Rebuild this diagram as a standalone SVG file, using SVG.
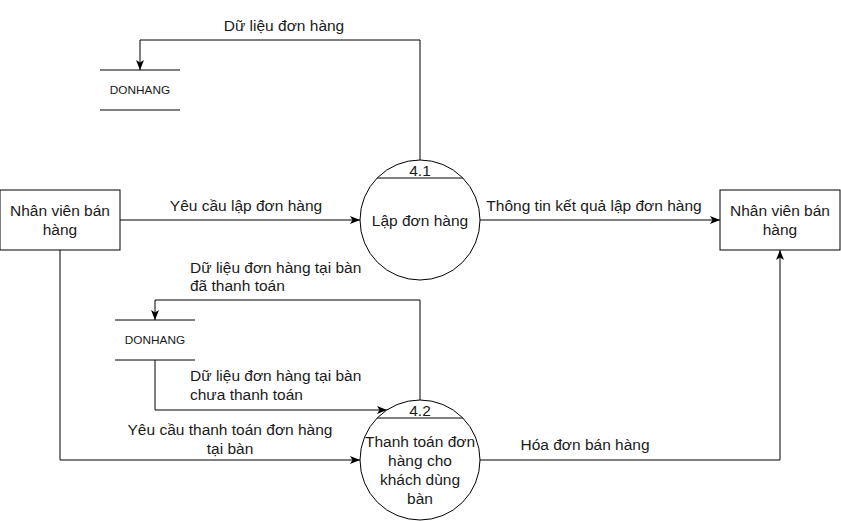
<svg xmlns="http://www.w3.org/2000/svg" width="841" height="521" viewBox="0 0 841 521">
<defs>
<marker id="arr" viewBox="0 0 10 10" refX="10" refY="5" markerWidth="10" markerHeight="10" markerUnits="userSpaceOnUse" orient="auto">
<path d="M0,1 L10,5 L0,9 L2.5,5 Z" fill="#000"/>
</marker>
<style>
.t{font-family:"Liberation Sans",Arial,sans-serif;font-size:15.5px;fill:#1a1a1a}
.s{font-family:"Liberation Sans",Arial,sans-serif;font-size:11.8px;fill:#1a1a1a}
.ln{fill:none;stroke:#000;stroke-width:1}
.sh{fill:#fff;stroke:#000;stroke-width:1}
</style>
</defs>
<rect width="841" height="521" fill="#fff"/>
<g id="connectors">
<path class="ln" d="M420,160 V40 H140 V70" marker-end="url(#arr)"/>
<path class="ln" d="M120,220 H360" marker-end="url(#arr)"/>
<path class="ln" d="M480,220 H720" marker-end="url(#arr)"/>
<path class="ln" d="M420,400 V300 H155 V320" marker-end="url(#arr)"/>
<path class="ln" d="M155,360 V410 H387" marker-end="url(#arr)"/>
<path class="ln" d="M60,250 V460 H360" marker-end="url(#arr)"/>
<path class="ln" d="M480,460 H780 V250" marker-end="url(#arr)"/>
<text class="t" x="284" y="31" text-anchor="middle">Dữ liệu đơn hàng</text>
<text class="t" x="246" y="211" text-anchor="middle">Yêu cầu lập đơn hàng</text>
<text class="t" x="594" y="211" text-anchor="middle">Thông tin kết quả lập đơn hàng</text>
<text class="t" x="190" y="273">Dữ liệu đơn hàng tại bàn</text>
<text class="t" x="190" y="291">đã thanh toán</text>
<text class="t" x="190" y="381">Dữ liệu đơn hàng tại bàn</text>
<text class="t" x="190" y="400">chưa thanh toán</text>
<text class="t" x="230" y="435" text-anchor="middle">Yêu cầu thanh toán đơn hàng</text>
<text class="t" x="230" y="454" text-anchor="middle">tại bàn</text>
<text class="t" x="585" y="450" text-anchor="middle">Hóa đơn bán hàng</text>
</g>
<g id="store1">
<path class="ln" d="M100,70 H180 M100,110 H180"/>
<text class="s" x="140" y="94" text-anchor="middle">DONHANG</text>
</g>
<g id="store2">
<path class="ln" d="M115,320 H195 M115,360 H195"/>
<text class="s" x="155" y="344" text-anchor="middle">DONHANG</text>
</g>
<g id="entity-left">
<rect class="sh" x="0" y="190" width="120" height="60"/>
<text class="t" x="60" y="216" text-anchor="middle">Nhân viên bán</text>
<text class="t" x="60" y="235" text-anchor="middle">hàng</text>
</g>
<g id="entity-right">
<rect class="sh" x="720" y="190" width="120" height="60"/>
<text class="t" x="780" y="216" text-anchor="middle">Nhân viên bán</text>
<text class="t" x="780" y="235" text-anchor="middle">hàng</text>
</g>
<g id="process-4-1">
<circle class="sh" cx="420" cy="220" r="60"/>
<line class="ln" x1="377" y1="178" x2="463" y2="178"/>
<text class="t" x="420" y="176" text-anchor="middle">4.1</text>
<text class="t" x="420" y="226" text-anchor="middle">Lập đơn hàng</text>
</g>
<g id="process-4-2">
<circle class="sh" cx="420" cy="460" r="60"/>
<line class="ln" x1="377" y1="418" x2="463" y2="418"/>
<text class="t" x="420" y="416" text-anchor="middle">4.2</text>
<text class="t" x="420" y="447" text-anchor="middle">Thanh toán đơn</text>
<text class="t" x="420" y="466" text-anchor="middle">hàng cho</text>
<text class="t" x="420" y="485" text-anchor="middle">khách dùng</text>
<text class="t" x="420" y="504" text-anchor="middle">bàn</text>
</g>
</svg>
